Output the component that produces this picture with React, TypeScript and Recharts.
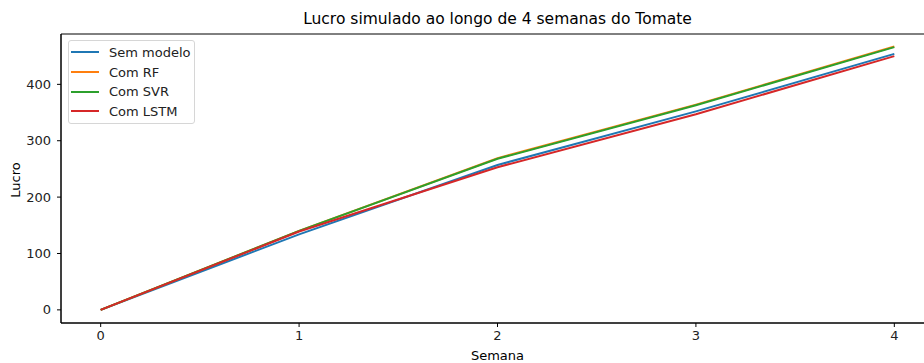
import { LineChart, Line, XAxis, YAxis, Legend, ReferenceArea } from 'recharts';

// weekly simulated profit
const weeks = [0, 1, 2, 3, 4];
const semModelo = [0, 134, 257, 352, 454];
const comRF = [0, 140, 269, 364, 467];
const comSVR = [0, 140, 268, 363, 466];
const comLSTM = [0, 139, 253, 347, 450];
const xTicks = [0, 1, 2, 3, 4];
const yTicks = [0, 100, 200, 300, 400];

const series = [
    { key: 'semModelo', name: 'Sem modelo', color: '#1f77b4' },
    { key: 'comRF', name: 'Com RF', color: '#ff7f0e' },
    { key: 'comSVR', name: 'Com SVR', color: '#2ca02c' },
    { key: 'comLSTM', name: 'Com LSTM', color: '#d62728' },
];

const data = weeks.map((w, i) => ({
    semana: w,
    semModelo: semModelo[i],
    comRF: comRF[i],
    comSVR: comSVR[i],
    comLSTM: comLSTM[i],
}));

const FONT = '"DejaVu Sans", sans-serif';
const X_DOMAIN: [number, number] = [-0.2, 4.2];
const Y_DOMAIN: [number, number] = [-23.3, 489.3];

function LegendBox() {
    return (
        <div style={{
            boxSizing: 'border-box', width: 127,
            border: '1px solid #d6d6d6', borderRadius: 3, background: 'rgba(255,255,255,0.8)',
            padding: '1.5px 4px 1.5px 2px', fontFamily: FONT, fontSize: 13, color: '#222',
        }}>
            {series.map(s => (
                <div key={s.key} style={{ display: 'flex', alignItems: 'center', height: 19.7, whiteSpace: 'nowrap' }}>
                    <span style={{ width: 28, height: 2, background: s.color, marginRight: 10, flex: 'none' }} />
                    <span>{s.name}</span>
                </div>
            ))}
        </div>
    );
}

export default function App() {
    const tickStyle = { fontSize: 13, fontFamily: FONT, fill: '#222' };
    return (
        <div style={{ position: 'absolute', left: 0, top: 0, width: 924, height: 363, overflow: 'hidden', background: '#fff' }}>
            <LineChart width={940} height={363} data={data} margin={{ top: 34, right: 6, bottom: 0, left: 0 }}>
                <XAxis
                    dataKey="semana" type="number" domain={X_DOMAIN} ticks={xTicks} allowDataOverflow
                    height={40} tickSize={4} tickMargin={4} tick={tickStyle}
                    stroke="#000" axisLine={{ stroke: '#000', strokeWidth: 1 }} tickLine={{ stroke: '#000' }}
                />
                <YAxis
                    type="number" domain={Y_DOMAIN} ticks={yTicks} allowDataOverflow
                    width={61} tickSize={4} tickMargin={6} tick={tickStyle}
                    stroke="#000" axisLine={{ stroke: '#000', strokeWidth: 1 }} tickLine={{ stroke: '#000' }}
                />
                {/* frame: top/right spines */}
                <ReferenceArea x1={X_DOMAIN[0]} x2={X_DOMAIN[1]} y1={Y_DOMAIN[0]} y2={Y_DOMAIN[1]}
                    fill="none" fillOpacity={0} stroke="#000" strokeWidth={1} />
                {series.map(s => (
                    <Line key={s.key} type="linear" dataKey={s.key} name={s.name} stroke={s.color}
                        strokeWidth={2} dot={false} activeDot={false} isAnimationActive={false} />
                ))}
                <Legend layout="vertical" align="center" verticalAlign="middle"
                    content={() => <LegendBox />}
                    wrapperStyle={{ left: 68, top: 40, width: 'auto' }} />
            </LineChart>

            {/* title and axis labels */}
            <div style={{ position: 'absolute', left: 0, width: 995, top: 10, textAlign: 'center', fontFamily: FONT, fontSize: 15.5, color: '#000' }}>
                Lucro simulado ao longo de 4 semanas do Tomate
            </div>
            <div style={{ position: 'absolute', left: 0, width: 995, top: 348, textAlign: 'center', fontFamily: FONT, fontSize: 13, color: '#000' }}>
                Semana
            </div>
            <div style={{
                position: 'absolute', left: 15, top: 180, transform: 'translate(-50%, -50%) rotate(-90deg)',
                fontFamily: FONT, fontSize: 13, color: '#000', whiteSpace: 'nowrap',
            }}>
                Lucro
            </div>
        </div>
    );
}
